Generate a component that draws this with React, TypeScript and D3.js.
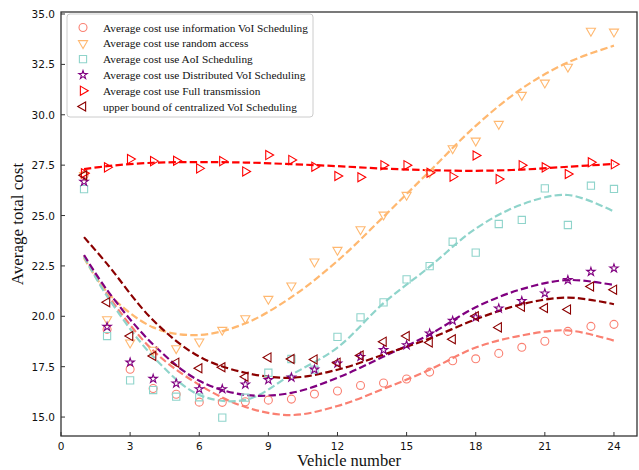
import * as d3 from 'd3';

// vehicle numbers 1..24
const vehicles = [1, 2, 3, 4, 5, 6, 7, 8, 9, 10, 11, 12, 13, 14, 15, 16, 17, 18, 19, 20, 21, 22, 23, 24];

// measured points
const infoVoI = [27.0, 19.35, 17.37, 16.42, 16.13, 15.74, 15.73, 15.76, 15.84, 15.89, 16.14, 16.29, 16.57, 16.69, 16.89, 17.23, 17.79, 17.89, 18.16, 18.46, 18.76, 19.25, 19.5, 19.6];
const randomAccess = [27.0, 19.85, 18.69, 18.33, 18.41, 18.74, 19.32, 19.9, 20.86, 21.52, 22.71, 23.29, 24.31, 25.04, 26.02, 27.14, 28.33, 28.71, 29.54, 30.98, 31.59, 32.38, 34.16, 34.12];
const aoi = [26.31, 19.02, 16.82, 16.34, 16.01, 15.98, 14.97, 15.96, 17.2, 17.88, 17.35, 18.98, 19.95, 20.69, 21.83, 22.49, 23.7, 23.16, 24.58, 24.78, 26.35, 24.53, 26.48, 26.32];
const distVoI = [26.68, 19.48, 17.71, 16.9, 16.67, 16.39, 16.39, 16.62, 16.84, 16.97, 17.36, 17.66, 17.99, 18.33, 18.57, 19.15, 19.78, 19.95, 20.39, 20.76, 21.14, 21.8, 22.21, 22.38];
const fullTx = [27.1, 27.39, 27.8, 27.7, 27.72, 27.34, 27.7, 27.19, 28.0, 27.76, 27.42, 26.96, 26.9, 27.5, 27.5, 27.12, 26.93, 27.98, 26.81, 27.5, 27.39, 27.06, 27.64, 27.54];
const upperBound = [27.0, 20.7, 19.02, 18.03, 17.7, 17.42, 17.47, 17.0, 17.96, 17.88, 17.86, 17.7, 18.05, 18.74, 19.02, 18.7, 18.86, 20.0, 19.45, 20.48, 20.41, 20.34, 21.48, 21.32];

// fitted trend curves, read at these x positions
const fitX = [1, 2, 4, 6, 8, 10, 12, 14, 16, 18, 20, 22, 24];
const infoFit = [23.0, 21.1, 18.3, 16.6, 15.5, 15.1, 15.55, 16.4, 17.35, 18.45, 19.05, 19.3, 18.79];
const randomFit = [22.9, 21.2, 19.45, 19.07, 19.65, 20.95, 22.75, 24.94, 27.2, 29.45, 31.3, 32.6, 33.43];
const aoiFit = [22.96, 21.0, 18.0, 16.1, 15.85, 17.1, 18.45, 20.65, 22.46, 24.35, 25.55, 26.02, 25.2];
const distFit = [23.04, 21.3, 18.6, 16.8, 16.1, 16.2, 16.95, 18.0, 19.1, 20.45, 21.35, 21.8, 21.55];
const fullFit = [27.3, 27.45, 27.62, 27.65, 27.63, 27.55, 27.45, 27.33, 27.25, 27.22, 27.28, 27.42, 27.56];
const upperFit = [23.93, 22.6, 19.8, 18.0, 17.2, 16.95, 17.35, 18.1, 18.9, 19.85, 20.6, 20.93, 20.6];

const xTicks = [0, 3, 6, 9, 12, 15, 18, 21, 24];
const yTicks = [15.0, 17.5, 20.0, 22.5, 25.0, 27.5, 30.0, 32.5, 35.0];

const series = [
  { label: 'Average cost use information VoI Scheduling', color: '#fa8072', marker: 'circle', values: infoVoI, fit: infoFit },
  { label: 'Average cost use random access', color: '#ffb870', marker: 'tridown', values: randomAccess, fit: randomFit },
  { label: 'Average cost use AoI Scheduling', color: '#8fd4cb', marker: 'square', values: aoi, fit: aoiFit },
  { label: 'Average cost use Distributed VoI Scheduling', color: '#800080', marker: 'star', values: distVoI, fit: distFit },
  { label: 'Average cost use Full transmission', color: '#ff0000', marker: 'triright', values: fullTx, fit: fullFit },
  { label: 'upper bound of centralized VoI Scheduling', color: '#8b0000', marker: 'trileft', values: upperBound, fit: upperFit },
];

const W = 639;
const H = 470;
const margin = { top: 12, right: 2, bottom: 34, left: 61 };
const serif = '"Liberation Serif", "Times New Roman", serif';
const sans = '"DejaVu Sans", sans-serif';

function Marker({ kind, color, x, y }: { kind: string; color: string; x: number; y: number }) {
  let path = '';
  let rot = 0;
  if (kind === 'circle') path = d3.symbol(d3.symbolCircle, 50)() || '';
  else if (kind === 'square') path = d3.symbol(d3.symbolSquare, 52)() || '';
  else if (kind === 'star') path = d3.symbol(d3.symbolStar, 22)() || '';
  else {
    path = d3.symbol(d3.symbolTriangle, 36)() || '';
    rot = kind === 'tridown' ? 180 : kind === 'triright' ? 90 : -90;
  }
  return (
    <path
      d={path}
      transform={`translate(${x},${y}) rotate(${rot})`}
      fill="none"
      stroke={color}
      strokeWidth={1.1}
    />
  );
}

export default function App() {
  const x = d3.scaleLinear().domain([0, 25]).range([margin.left, W - margin.right]);
  const y = d3.scaleLinear().domain([14.06, 35.1]).range([H - margin.bottom, margin.top]);

  const line = d3
    .line<number>()
    .x((_, i) => x(fitX[i]))
    .y((d) => y(d))
    .curve(d3.curveCatmullRom);

  const x0 = margin.left;
  const x1 = W - margin.right;
  const y0 = H - margin.bottom;
  const y1 = margin.top;

  return (
    <svg width={W} height={H} style={{ position: 'absolute', left: 0, top: 0, background: '#fff' }}>
      {/* ticks, inward */}
      {xTicks.map((t) => (
        <g key={`xt${t}`}>
          <line x1={x(t)} x2={x(t)} y1={y0} y2={y0 - 4} stroke="#333" strokeWidth={1} />
          <text x={x(t)} y={y0 + 14} textAnchor="middle" fontFamily={sans} fontSize={10.5} fill="#111">
            {t}
          </text>
        </g>
      ))}
      {yTicks.map((t) => (
        <g key={`yt${t}`}>
          <line x1={x0} x2={x0 + 4} y1={y(t)} y2={y(t)} stroke="#333" strokeWidth={1} />
          <text x={x0 - 6} y={y(t) + 4} textAnchor="end" fontFamily={sans} fontSize={10.5} fill="#111">
            {t.toFixed(1)}
          </text>
        </g>
      ))}

      {/* fitted trends */}
      {series.map((s) => (
        <path
          key={`fit-${s.label}`}
          d={line(s.fit) || ''}
          fill="none"
          stroke={s.color}
          strokeWidth={2.2}
          strokeDasharray="7.4,3.2"
        />
      ))}

      {/* points */}
      {series.map((s) =>
        s.values.map((v, i) => (
          <Marker key={`${s.label}-${i}`} kind={s.marker} color={s.color} x={x(vehicles[i])} y={y(v)} />
        )),
      )}

      {/* frame */}
      <rect x={x0} y={y1} width={x1 - x0} height={y0 - y1} fill="none" stroke="#333" strokeWidth={1.3} />

      {/* legend */}
      <g>
        <rect x={67} y={14} width={246} height={103} rx={3} fill="#fff" fillOpacity={0.85} stroke="#ccc" strokeWidth={1} />
        {series.map((s, i) => (
          <g key={`lg${i}`}>
            <Marker kind={s.marker} color={s.color} x={83} y={27.5 + i * 15.8} />
            <text x={103} y={31.5 + i * 15.8} fontFamily={serif} fontSize={11.3} fill="#111">
              {s.label}
            </text>
          </g>
        ))}
      </g>

      {/* axis titles */}
      <text x={(x0 + x1) / 2} y={466} textAnchor="middle" fontFamily={serif} fontSize={16.5} fill="#111">
        Vehicle number
      </text>
      <text
        transform={`translate(23,${(y0 + y1) / 2}) rotate(-90)`}
        textAnchor="middle"
        fontFamily={serif}
        fontSize={17}
        fill="#111"
      >
        Average total cost
      </text>
    </svg>
  );
}
